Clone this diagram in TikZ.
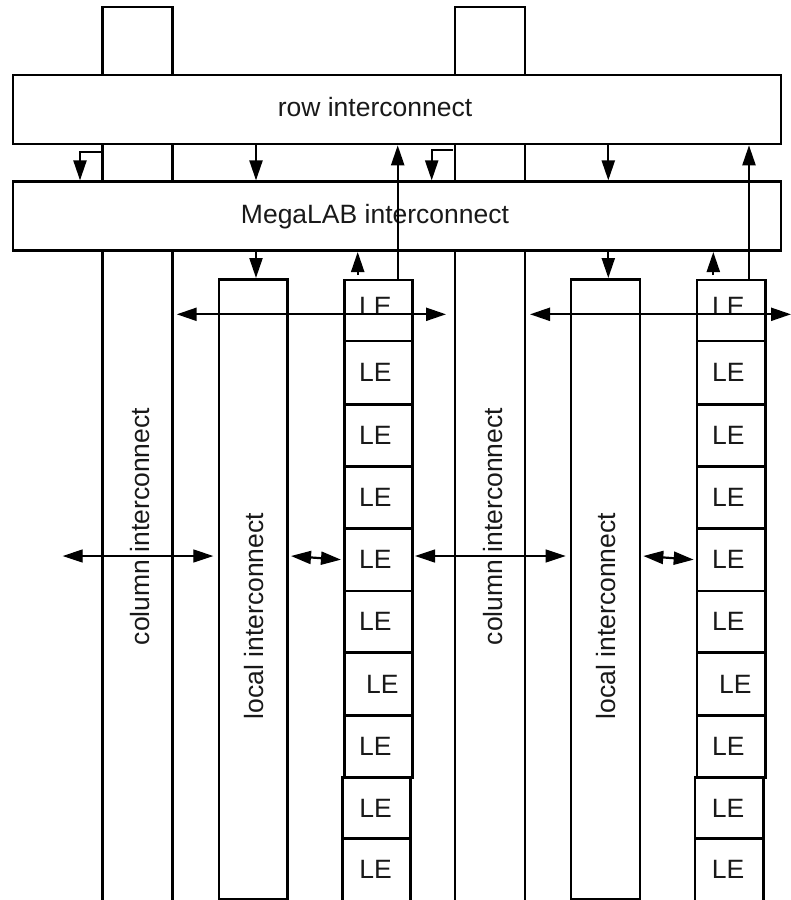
\documentclass[tikz,border=0pt]{standalone}
\usepackage{fontspec}
\setmainfont{Liberation Sans}
\usetikzlibrary{arrows.meta}
\begin{document}
\begin{tikzpicture}[x=1pt,y=-1pt,
  box/.style={draw, line width=2.6pt, inner sep=0pt, rectangle},
  lbl/.style={font=\fontsize{26.5}{30}\selectfont, inner sep=0pt, text=black!90},
  wire/.style={line width=2.6pt},
  arr/.style={line width=2.2pt, -{Triangle[length=20pt,width=13pt]}},
  darr/.style={line width=2.2pt, {Triangle[length=20pt,width=13pt]}-{Triangle[length=20pt,width=13pt]}},
  tarr/.style={line width=1.2pt, {Triangle[length=20pt,width=13pt]}-{Triangle[length=20pt,width=13pt]}}]
\useasboundingbox (0,0) rectangle (791,900);
\fill[white] (0,0) rectangle (791,900);

% row and MegaLAB interconnect
\node[box, minimum width=768pt, minimum height=69pt] (row) at (397,109.5) {};
\node[lbl] (rowt) at (375,107) {row interconnect};
\node[box, minimum width=768pt, minimum height=69pt] (mega) at (397,216.2) {};
\node[lbl] (megat) at (375,217) {MegaLAB interconnect};

% column interconnect channels
\foreach \l/\r in {102.7/172.3, 455/525}{
  \draw[wire] (\l,0 |- row.north) |- (\r,7) -- (\r,0 |- row.north);
}
\foreach \x in {102.7,172.3,455,525}{
  \draw[wire] (\x,0 |- row.south) -- (\x,0 |- mega.north);
  \draw[wire] (\x,0 |- mega.south) -- (\x,906);
}

% local interconnect boxes
\node[box, minimum width=68.7pt, minimum height=619.7pt] (loc1) at (253.35,589.15) {};
\node[box, minimum width=69pt, minimum height=619.7pt] (loc2) at (605.5,589.15) {};

% rotated labels
\node[lbl, rotate=90] (col1t) at (140.5,526.5) {column interconnect};
\node[lbl, rotate=90] (col2t) at (493,526.5) {column interconnect};
\node[lbl, rotate=90] (loc1t) at (254,616) {local interconnect};
\node[lbl, rotate=90] (loc2t) at (606,616) {local interconnect};

% LE columns
\foreach \n/\xl/\w/\t/\b/\s/\v in {
  a1/344.3/68/280/341/-3/4, a2/344.3/68/341/404.3/-3/0, a3/344.3/68/404.3/466.3/-3/0,
  a4/344.3/68/466.3/528.3/-3/0, a5/344.3/68/528.3/591/-3/0, a6/344.3/68/591/652.3/-3/0,
  a7/344.3/68/652.3/715.7/4/0, a8/344.3/68/715.7/777.3/-3/0,
  a9/342.7/67.8/777.3/838.7/-1/0, a10/342.7/67.8/838.7/904/-1/2,
  b1/697/68.7/280/341/-3/4, b2/697/68.7/341/404.3/-3/0, b3/697/68.7/404.3/466.3/-3/0,
  b4/697/68.7/466.3/528.3/-3/0, b5/697/68.7/528.3/591/-3/0, b6/697/68.7/591/652.3/-3/0,
  b7/697/68.7/652.3/715.7/4/0, b8/697/68.7/715.7/777.3/-3/0,
  b9/695/68.3/777.3/838.7/-1/0, b10/695/68.3/838.7/904/-1/2}{
  \pgfmathsetmacro\hh{\b-\t}
  \pgfmathsetmacro\cx{\xl+\w/2}
  \pgfmathsetmacro\cy{(\t+\b)/2}
  \node[box, minimum width=\w pt, minimum height=\hh pt,
        label={[lbl, xshift=\s pt, yshift=\v pt]center:LE}] (\n) at (\cx,\cy) {};
}

% arrows between row and MegaLAB
\draw[arr] (102.7,152) -| (80,0 |- mega.north);
\draw[arr] (452.7,150) -| (431.7,0 |- mega.north);
\draw[arr] (256,0 |- row.south) -- (256,0 |- mega.north);
\draw[arr] (608.3,0 |- row.south) -- (608.3,0 |- mega.north);
% LE outputs to row interconnect
\draw[arr] (a1.north -| 397.7,0) -- (397.7,0 |- row.south);
\draw[arr] (b1.north -| 749,0) -- (749,0 |- row.south);
% MegaLAB to local interconnect
\draw[arr] (256,0 |- mega.south) -- (256,0 |- loc1.north);
\draw[arr] (608.3,0 |- mega.south) -- (608.3,0 |- loc2.north);
% LE to MegaLAB
\draw[arr] (357.7,275) -- (357.7,0 |- mega.south);
\draw[arr] (713.3,275) -- (713.3,0 |- mega.south);

% horizontal connections
\coordinate (h1a) at (176.7,314.3); \coordinate (h1b) at (446,314.3);
\coordinate (h2a) at (530,314.3);   \coordinate (h2b) at (791,314.3);
\draw[darr] (h1a) -- (h1b);
\draw[darr] (h2a) -- (h2b);
\coordinate (h3a) at (62.7,556);  \coordinate (h3b) at (213.3,556);
\coordinate (h5a) at (415,556);   \coordinate (h5b) at (565.7,556);
\draw[tarr] (h3a) -- (h3b);
\draw[tarr] (h5a) -- (h5b);
\draw[darr] (loc1.east |- 0,556) ++(2,0) -- ([xshift=-2pt]a5.west);
\draw[darr] (loc2.east |- 0,556) ++(2,0) -- ([xshift=-2pt]b5.west);
\end{tikzpicture}
\end{document}
